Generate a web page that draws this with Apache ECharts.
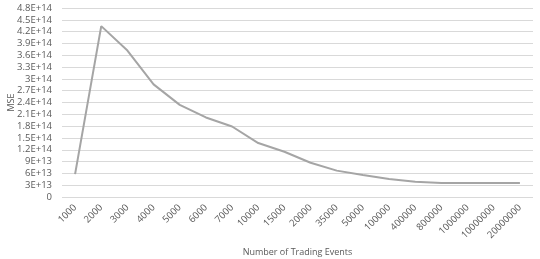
<!DOCTYPE html>
<html><head><meta charset="utf-8">
<script src="https://cdn.jsdelivr.net/npm/echarts@6/dist/echarts.min.js"></script>
<style>html,body{margin:0;padding:0;background:#fff}#c{width:540px;height:259px}</style>
</head><body><div id="c"></div>
<script>
const categories = ['1000','2000','3000','4000','5000','6000','7000','10000','15000','20000','35000','50000','100000','400000','800000','1000000','10000000','20000000'];
const mseValues = [5.8e13, 4.34e14, 3.72e14, 2.86e14, 2.34e14, 2.02e14, 1.79e14, 1.37e14, 1.15e14, 8.7e13, 6.7e13, 5.6e13, 4.6e13, 3.9e13, 3.55e13, 3.55e13, 3.55e13, 3.55e13];
const yTickLabels = ['0','3E+13','6E+13','9E+13','1.2E+14','1.5E+14','1.8E+14','2.1E+14','2.4E+14','2.7E+14','3E+14','3.3E+14','3.6E+14','3.9E+14','4.2E+14','4.5E+14','4.8E+14'];
const chart = echarts.init(document.getElementById('c'));
const font = 'Open Sans';
chart.setOption({
  animation: false,
  grid: {left: 62, right: 7, top: 8, bottom: 62, containLabel: false, outerBoundsMode: 'none'},
  xAxis: {
    type: 'category', data: categories, boundaryGap: true,
    name: 'Number of Trading Events', nameLocation: 'middle', nameGap: 51, nameMoveOverlap: false,
    nameTextStyle: {color: '#595959', fontSize: 9, fontFamily: font},
    axisLine: {show: false}, axisTick: {show: false},
    axisLabel: {rotate: 45, interval: 0, color: '#595959', fontSize: 9.5, fontFamily: font, margin: 9}
  },
  yAxis: {
    type: 'value', min: 0, max: 4.8e14, interval: 3e13,
    name: 'MSE', nameLocation: 'middle', nameGap: 46, nameMoveOverlap: false,
    nameTextStyle: {color: '#595959', fontSize: 9, fontFamily: font},
    axisLine: {show: false}, axisTick: {show: false},
    splitLine: {lineStyle: {color: '#d9d9d9', width: 1}},
    axisLabel: {color: '#595959', fontSize: 9.5, fontFamily: font, margin: 10,
      formatter: function(v){ const i = Math.round(v/3e13); return yTickLabels[i] !== undefined ? yTickLabels[i] : ''; }}
  },
  series: [{
    type: 'line', data: mseValues, symbol: 'none',
    lineStyle: {color: '#a5a5a5', width: 2}
  }]
});
</script></body></html>
